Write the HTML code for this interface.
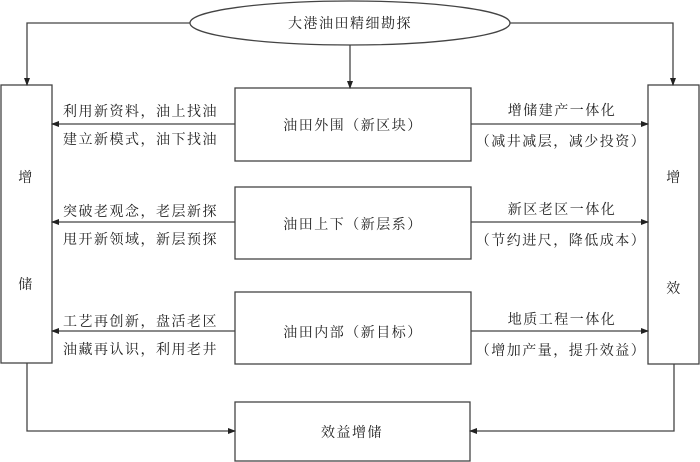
<!DOCTYPE html>
<html><head><meta charset="utf-8"><style>
html,body{margin:0;padding:0;background:#fff;width:700px;height:462px;overflow:hidden}
text{font-family:"Liberation Serif","Noto Serif CJK SC","Noto Sans CJK SC",serif;font-size:14px;fill:#222;letter-spacing:1.5px}
</style></head><body>
<svg width="700" height="462" xmlns="http://www.w3.org/2000/svg">
<defs><marker id="a" markerWidth="8" markerHeight="8" refX="7" refY="4" orient="auto" markerUnits="userSpaceOnUse"><path d="M0,1 L8,4 L0,7z" fill="#222"/></marker></defs>
<g stroke="#444" stroke-width="1.3" fill="none">
<ellipse cx="350" cy="23" rx="160" ry="22" fill="#fff"/>
<rect x="1" y="85" width="51" height="278"/>
<rect x="648" y="85" width="51" height="279"/>
<rect x="235" y="88" width="236" height="73"/>
<rect x="235" y="187" width="236" height="72"/>
<rect x="235" y="292" width="236" height="72"/>
<rect x="235" y="402" width="235" height="59"/>
<path d="M190,23 H27 V85" marker-end="url(#a)"/>
<path d="M510,23 H673 V85" marker-end="url(#a)"/>
<path d="M350,45 V88" marker-end="url(#a)"/>
<path d="M235,124 H52" marker-end="url(#a)"/>
<path d="M235,222 H52" marker-end="url(#a)"/>
<path d="M235,331 H52" marker-end="url(#a)"/>
<path d="M471,124 H648" marker-end="url(#a)"/>
<path d="M471,222 H648" marker-end="url(#a)"/>
<path d="M471,331 H648" marker-end="url(#a)"/>
<path d="M27,363 V431 H235" marker-end="url(#a)"/>
<path d="M674,364 V431 H470" marker-end="url(#a)"/>
</g>
<text x="350" y="28" text-anchor="middle">大港油田精细勘探</text>
<text x="353" y="130" text-anchor="middle">油田外围（新区块）</text>
<text x="353" y="229" text-anchor="middle">油田上下（新层系）</text>
<text x="353" y="337" text-anchor="middle">油田内部（新目标）</text>
<text x="352" y="437" text-anchor="middle">效益增储</text>
<text x="63" y="116">利用新资料，油上找油</text>
<text x="63" y="144">建立新模式，油下找油</text>
<text x="63" y="216">突破老观念，老层新探</text>
<text x="63" y="244">甩开新领域，新层预探</text>
<text x="63" y="326">工艺再创新，盘活老区</text>
<text x="63" y="354">油藏再认识，利用老井</text>
<text x="562" y="115" text-anchor="middle">增储建产一体化</text>
<text x="561" y="146" text-anchor="middle">（减井减层，减少投资）</text>
<text x="562" y="214" text-anchor="middle">新区老区一体化</text>
<text x="561" y="245" text-anchor="middle">（节约进尺，降低成本）</text>
<text x="562" y="324" text-anchor="middle">地质工程一体化</text>
<text x="561" y="355" text-anchor="middle">（增加产量，提升效益）</text>
<text x="26" y="182" text-anchor="middle">增</text>
<text x="26" y="289" text-anchor="middle">储</text>
<text x="674" y="182" text-anchor="middle">增</text>
<text x="674" y="293" text-anchor="middle">效</text>
</svg>
</body></html>
